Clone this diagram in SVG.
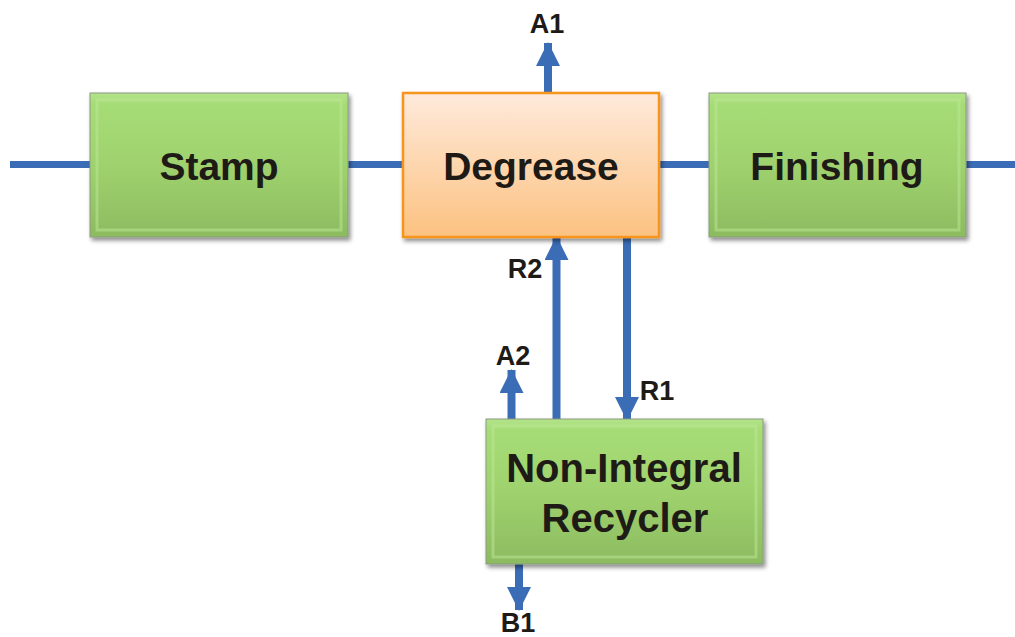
<svg xmlns="http://www.w3.org/2000/svg" width="1015" height="637" viewBox="0 0 1015 637">
<defs>
<linearGradient id="gGreen" x1="0" y1="0" x2="0" y2="1">
<stop offset="0" stop-color="#b3e38a"/>
<stop offset="0.08" stop-color="#a6dc76"/>
<stop offset="0.5" stop-color="#9fd26e"/>
<stop offset="1" stop-color="#8cbb60"/>
</linearGradient>
<linearGradient id="gOrange" x1="0" y1="0" x2="0" y2="1">
<stop offset="0" stop-color="#feeadb"/>
<stop offset="1" stop-color="#fcc281"/>
</linearGradient>
<filter id="shadow" x="-10%" y="-10%" width="125%" height="130%">
<feDropShadow dx="2" dy="3" stdDeviation="2.2" flood-color="#000" flood-opacity="0.45"/>
</filter>
<marker id="ah" viewBox="0 0 24 24" refX="23" refY="12" markerWidth="24" markerHeight="24" markerUnits="userSpaceOnUse" orient="auto">
<path d="M0,0 L24,12 L0,24 Z" fill="#3b6db6"/>
</marker>
<style>
.green{fill:url(#gGreen);stroke:#8a9a80;stroke-width:1;filter:url(#shadow)}
.bevel{fill:none;stroke:#bde897;stroke-width:3;opacity:0.5}
.orange{fill:url(#gOrange);stroke:#f7941d;stroke-width:2.5;filter:url(#shadow)}
.lbl{font-family:"Liberation Sans",Arial,sans-serif;font-weight:bold;fill:#1e1a16;text-anchor:middle}
.big{font-size:39px}
.rec{font-size:40px}
.small{font-size:27px}
.line{stroke:#3b6db6;stroke-width:7;fill:none}
.arr{stroke:#3b6db6;stroke-width:8;fill:none;marker-end:url(#ah)}
</style>
</defs>
<rect width="1015" height="637" fill="#ffffff"/>
<g id="connectors">
<line class="line" x1="10" y1="164.5" x2="92" y2="164.5"/>
<line class="line" x1="346" y1="164.5" x2="405" y2="164.5"/>
<line class="line" x1="657" y1="164.5" x2="712" y2="164.5"/>
<line class="line" x1="964" y1="164.5" x2="1015" y2="164.5"/>
<line class="arr" x1="548" y1="92" x2="548" y2="43"/>
<line class="arr" x1="556.5" y1="419" x2="556.5" y2="237"/>
<line class="arr" x1="627" y1="238" x2="627" y2="420"/>
<line class="arr" x1="511.5" y1="419" x2="511.5" y2="370"/>
<line class="arr" x1="519" y1="563" x2="519" y2="610"/>
<text class="lbl small" x="547" y="33">A1</text>
<text class="lbl small" x="525" y="278">R2</text>
<text class="lbl small" x="657" y="400">R1</text>
<text class="lbl small" x="513" y="365">A2</text>
<text class="lbl small" x="518" y="632">B1</text>
</g>
<g id="stamp">
<rect class="green" x="90" y="93" width="258" height="144"/>
<rect class="bevel" x="97" y="100" width="244" height="130"/>
<text class="lbl big" x="219" y="180">Stamp</text>
</g>
<g id="degrease">
<rect class="orange" x="403" y="93" width="256" height="144"/>
<text class="lbl big" x="531" y="180">Degrease</text>
</g>
<g id="finishing">
<rect class="green" x="709" y="93" width="257" height="144"/>
<rect class="bevel" x="716" y="100" width="243" height="130"/>
<text class="lbl big" x="837" y="180">Finishing</text>
</g>
<g id="recycler">
<rect class="green" x="486" y="419" width="277" height="145"/>
<rect class="bevel" x="493" y="426" width="263" height="131"/>
<text class="lbl rec" x="624" y="482">Non-Integral</text>
<text class="lbl rec" x="625" y="532">Recycler</text>
</g>
</svg>
